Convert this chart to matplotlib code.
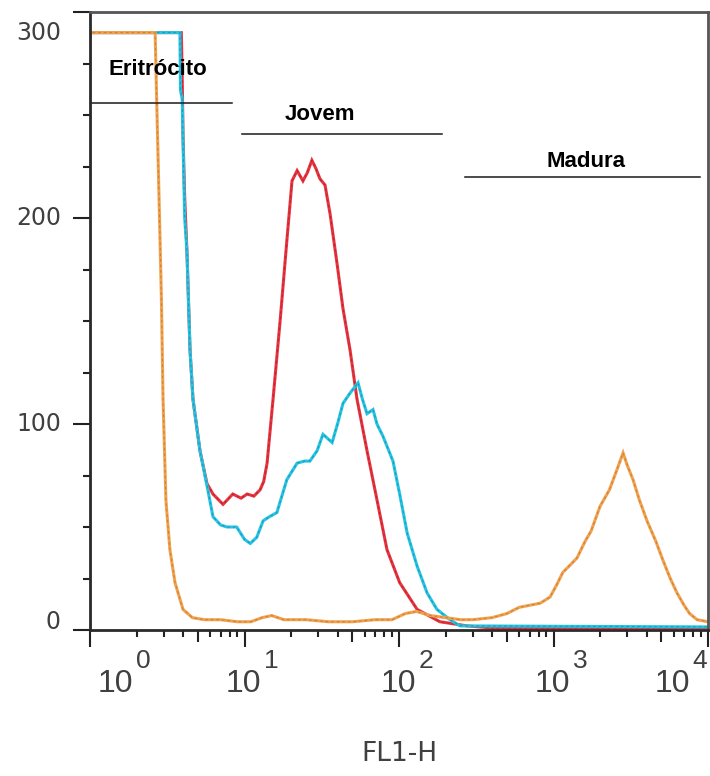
import matplotlib
matplotlib.use('Agg')
import matplotlib.pyplot as plt
from matplotlib.ticker import FixedLocator, NullFormatter
from matplotlib.transforms import offset_copy

# histogram: FL1-H (log axis) vs counts
orange_x = [1, 1, 2.64, 2.7, 2.8, 2.9, 2.97, 3.1, 3.29, 3.55, 4.0, 4.6, 5.5, 7, 9, 11,
            13, 15, 18, 25, 35, 50, 70, 90, 110, 130, 160, 200, 250, 300, 400, 500,
            600, 700, 820, 950, 1050, 1150, 1300, 1420, 1600, 1750, 2000, 2300, 2580,
            2820, 3000, 3270, 3600, 4030, 4600, 5100, 5700, 6300, 7000, 7600, 8500, 10000]
orange_y = [0, 290, 290, 258, 209, 160, 112, 63, 39, 23, 10, 6, 5, 5, 4, 4,
            6, 7, 5, 5, 4, 4, 5, 5, 8, 9, 7, 6, 5, 5, 6, 8,
            11, 12, 13, 16, 22, 28, 32, 35, 43, 48, 60, 68, 78,
            86, 80, 73, 63, 53, 43, 34, 25, 18, 12, 8, 5, 4]

red_x = [1, 3.9, 3.95, 4.0, 4.1, 4.24, 4.44, 4.64, 5.15, 5.72, 6.25, 7.26, 8.4, 9.5,
         10.4, 11.5, 12.6, 13.3, 14.0, 15.3, 17.0, 18.8, 20.3, 21.9, 23.9, 25.5, 27.3,
         29.0, 30.8, 33.2, 35.8, 39.7, 43.4, 48.2, 53.5, 62.1, 72.1, 83.6, 101, 131,
         184, 276, 400, 10000]
red_y = [290, 290, 270, 240, 210, 184, 136, 112, 87, 71, 66, 61, 66, 64,
         66, 65, 68, 72, 81, 112, 150, 189, 218, 223, 218, 222, 228,
         224, 219, 216, 202, 178, 156, 136, 112, 87, 63, 39, 23, 10,
         4, 2, 1, 1]

cyan_x = [1, 3.82, 3.85, 3.95, 4.02, 4.1, 4.24, 4.44, 4.64, 5.15, 5.72, 6.25, 7.0, 7.7,
          8.9, 10.0, 10.9, 12.0, 13.2, 14.5, 16.2, 18.8, 21.9, 24.5, 26.5, 29.5, 32.2,
          36.9, 40.0, 43.4, 48.2, 54.3, 58.0, 62.1, 67.9, 72.0, 78.8, 91.4, 101, 113,
          131, 152, 176, 214, 248, 10000]
cyan_y = [290, 290, 262, 258, 230, 200, 184, 136, 112, 87, 70, 55, 51, 50,
          50, 44, 42, 45, 53, 55, 57, 73, 81, 82, 82, 87, 95,
          91, 100, 110, 115, 120, 112, 105, 107, 100, 94, 82, 66, 47,
          31, 18, 10, 5, 2, 1.5]

# gates: name, start, end, level
gate_names = ['Eritrócito', 'Jovem', 'Madura']
gate_start = [1, 9.6, 267]
gate_end = [8.3, 190, 8880]
gate_level = [256, 241, 220]
label_x = [2.75, 30.8, 1623]
label_y = [272, 250, 227.5]

y_ticks = [0, 100, 200, 300]
x_exps = [0, 1, 2, 3, 4]

fig = plt.figure(figsize=(7.1, 7.76), dpi=100)
ax = fig.add_axes([90/710, 146/776, 618/710, 618/776])

# each trace: colour line with darker dashes inside (like the scan)
traces = [(red_x, red_y, '#e8343f', '#9a1c2c'),
          (cyan_x, cyan_y, '#25c4e4', '#1a7f9a'),
          (orange_x, orange_y, '#f2a24e', '#b06c2a')]
for xs, ys, c, dark in traces:
    ax.plot(xs, ys, color=c, lw=2.2, solid_joinstyle='miter')
    ax.plot(xs, ys, color=dark, lw=0.8, dashes=(2.5, 2.5), alpha=0.6)

ax.set_xscale('log')
ax.set_xlim(1, 1e4)
ax.set_ylim(0, 300)

for s in ['left', 'bottom']:
    ax.spines[s].set_color('#2a2a2a')
    ax.spines[s].set_linewidth(2)
for s in ['top', 'right']:
    ax.spines[s].set_color('#555555')
    ax.spines[s].set_linewidth(2)

# gates and their names
for name, x0, x1, lev, tx, ty in zip(gate_names, gate_start, gate_end, gate_level, label_x, label_y):
    ax.plot([x0, x1], [lev, lev], color='#1a1a1a', lw=1.1)
    ax.text(tx, ty, name, ha='center', va='center', fontsize=16,
            fontweight='bold', family='Liberation Sans', color='black')

# y axis ticks
ax.yaxis.set_major_locator(FixedLocator(y_ticks))
ax.yaxis.set_minor_locator(FixedLocator([v for v in range(0, 301, 25) if v % 100]))
ax.yaxis.set_major_formatter(NullFormatter())
ax.tick_params(axis='y', which='major', length=12, width=1.5, color='#222222')
ax.tick_params(axis='y', which='minor', length=5, width=1.5, color='#222222')

ytr = ax.get_yaxis_transform()
y_shift = {0: 6, 300: -15}
for v in y_ticks:
    t = offset_copy(ytr, fig=fig, x=-21, y=y_shift.get(v, 0), units='points')
    ax.text(0, v, str(v), transform=t, ha='right', va='center', fontsize=17,
            color='#404040')

# x axis ticks: decades long, 2..9 short, the 5s a bit longer
ax.xaxis.set_major_locator(FixedLocator([10.0**e for e in x_exps]))
minors = [m * 10.0**e for e in x_exps[:-1] for m in [2, 3, 4, 6, 7, 8, 9]]
fives = [5 * 10.0**e for e in x_exps[:-1]]
ax.xaxis.set_minor_locator(FixedLocator(minors))
ax.xaxis.set_major_formatter(NullFormatter())
ax.xaxis.set_minor_formatter(NullFormatter())
ax.tick_params(axis='x', which='major', length=12, width=1.5, color='#222222')
ax.tick_params(axis='x', which='minor', length=5, width=1.5, color='#222222')

sec = ax.secondary_xaxis('bottom')
sec.set_xticks(fives)
sec.xaxis.set_minor_locator(FixedLocator([]))
sec.set_xticklabels([])
sec.spines['bottom'].set_visible(False)
sec.tick_params(axis='x', which='major', length=8.5, width=1.5, color='#222222')

xtr = ax.get_xaxis_transform()
x_shift = {0: 31, 4: -13}
for e in x_exps:
    dx = x_shift.get(e, 12)
    tb = offset_copy(xtr, fig=fig, x=dx, y=-44.5, units='points')
    te = offset_copy(xtr, fig=fig, x=dx + 1.8, y=-27.5, units='points')
    ax.text(10.0**e, 0, '10', transform=tb, ha='right', va='baseline',
            fontsize=23, family='Liberation Sans', color='#404040')
    ax.text(10.0**e, 0, str(e), transform=te, ha='left', va='baseline',
            fontsize=19, family='Liberation Sans', color='#404040')

ax.text(0.5, -0.2, 'FL1-H', transform=ax.transAxes, ha='center', va='center',
        fontsize=19, color='#404040')

fig.savefig('out.png', dpi=100)
